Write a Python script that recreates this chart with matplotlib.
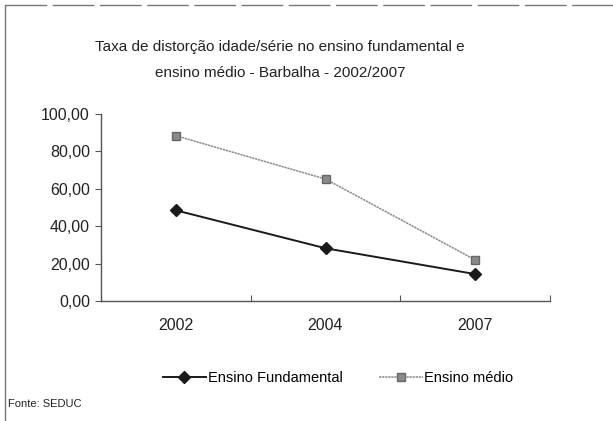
import matplotlib.pyplot as plt
from matplotlib.lines import Line2D

# data
anos = ["2002", "2004", "2007"]
fundamental = [48.5, 28.2, 14.4]
medio = [88.4, 65.2, 22.0]
yticks = [0, 20, 40, 60, 80, 100]

plt.rcParams['font.family'] = ['Liberation Sans', 'DejaVu Sans']

fig = plt.figure(figsize=(6.13, 4.21), dpi=100)
ax = fig.add_axes([101 / 613, 1 - 301 / 421, 449 / 613, 187 / 421])

x = [0, 1, 2]
ax.plot(x, fundamental, color="#1a1a1a", lw=1.4, marker="D", ms=6,
        label="Ensino Fundamental")
ax.plot(x, medio, color="#8a8a8a", lw=1.1, ls=(0, (1.5, 0.5)), marker="s", ms=6,
        mfc="#8a8a8a", mec="#666666", label="Ensino médio")

ax.set_xlim(-0.5, 2.5)
ax.set_ylim(0, 100)
ax.set_xticks([-0.5, 0.5, 1.5, 2.5])
ax.set_xticklabels([])
ax.tick_params(axis="x", direction="in", length=4, color="#555555")
for xi, a in zip(x, anos):
    ax.text(xi, -13, a, ha="center", va="center", fontsize=11.5, color="#222222")
ax.set_yticks(yticks)
ax.set_yticklabels([f"{v:.2f}".replace(".", ",") for v in yticks],
                   fontsize=11.5, color="#222222")
ax.tick_params(axis="y", direction="out", length=4, color="#555555", pad=4)
for s in ["top", "right"]:
    ax.spines[s].set_visible(False)
for s in ["left", "bottom"]:
    ax.spines[s].set_color("#555555")
    ax.spines[s].set_linewidth(1.0)

fig.text(280 / 613, 1 - 47 / 421, "Taxa de distorção idade/série no ensino fundamental e",
         ha="center", va="center", fontsize=11, color="#222222")
fig.text(280 / 613, 1 - 73 / 421, "ensino médio - Barbalha - 2002/2007",
         ha="center", va="center", fontsize=11, color="#222222")

handles = [
    Line2D([], [], color="#1a1a1a", lw=1.4, marker="D", ms=6),
    Line2D([], [], color="#8a8a8a", lw=1.1, ls=(0, (1.5, 0.5)), marker="s", ms=6,
           mfc="#8a8a8a", mec="#666666"),
]
fig.legend(handles, ["Ensino Fundamental", "Ensino médio"], loc="center",
           bbox_to_anchor=(338 / 613, 1 - 378 / 421), ncol=2, frameon=False,
           fontsize=10.5, handlelength=3.0, handletextpad=0.1, columnspacing=2.5)

fig.text(8 / 613, 1 - 404 / 421, "Fonte: SEDUC", fontsize=8, va="center",
         color="#222222")

# scanned frame: left and top border
fig.add_artist(Line2D([5 / 613, 5 / 613], [0, 1 - 5 / 421], color="#777777", lw=1))
fig.add_artist(Line2D([5 / 613, 1], [1 - 5 / 421, 1 - 5 / 421], color="#777777",
                      lw=1, ls=(0, (30, 4))))

fig.savefig("out.png", dpi=100)
